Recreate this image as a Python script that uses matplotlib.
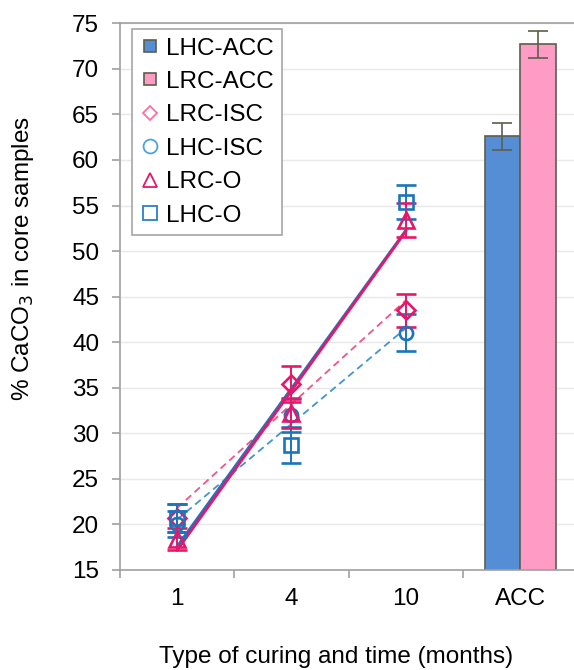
import numpy as np
import matplotlib
matplotlib.use("Agg")
import matplotlib.pyplot as plt
from matplotlib.lines import Line2D

plt.rcParams['font.family'] = ['Liberation Sans', 'DejaVu Sans']

categories = ['1', '4', '10', 'ACC']
time_idx = [0, 1, 2]

lrc_isc = [20.7, 35.4, 43.5]
lrc_isc_err = [1.5, 2.0, 1.8]
lhc_isc = [20.05, 32.0, 41.05]
lhc_isc_err = [1.4, 1.9, 2.0]
lrc_o = [18.4, 32.2, 53.4]
lrc_o_err = [1.2, 1.6, 1.85]
lhc_o = [20.7, 28.7, 55.4]
lhc_o_err = [1.5, 2.0, 1.9]

acc_labels = ['LHC-ACC', 'LRC-ACC']
acc_values = [62.6, 72.7]
acc_err = [1.5, 1.5]

PINK = '#E6176A'
BLUE = '#1B75BB'
PINK_D = '#F0558A'
BLUE_D = '#4393D3'
BAR_BLUE = '#558ED5'
BAR_PINK = '#FF9CC5'
EDGE = '#5E5E4C'
GRAY = '#A0A0A0'
FS = 17.5

fig = plt.figure(figsize=(5.74, 6.70), dpi=100)
ax = fig.add_axes([0.209, 0.1493, 0.7968, 0.8159])

ax.set_ylim(15, 75)
ax.set_xlim(-0.5, 3.5)
ax.set_yticks(np.arange(15, 76, 5))
ax.yaxis.grid(True, color='#E8E8E8', lw=1.0)
ax.set_axisbelow(True)

# ACC bars
w = 0.31
ax.bar([3 - w / 2, 3 + w / 2], acc_values, width=w, color=[BAR_BLUE, BAR_PINK],
       edgecolor=EDGE, linewidth=1.2, zorder=2)
ax.errorbar([3 - w / 2, 3 + w / 2], acc_values, yerr=acc_err, fmt='none',
            ecolor=EDGE, elinewidth=1.2, capsize=7, capthick=1.2, zorder=3)

# trendlines
def trend(y, color, ls, lw, z):
    p = np.polyfit(time_idx, y, 1)
    xx = np.array([time_idx[0], time_idx[-1]])
    ax.plot(xx, np.polyval(p, xx), color=color, ls=ls, lw=lw, zorder=z)

trend(lhc_isc, BLUE_D, (0, (4, 2.5)), 1.3, 3)
trend(lrc_isc, PINK_D, (0, (4, 2.5)), 1.3, 3)
trend(lhc_o, BLUE, '-', 2.0, 3)
trend(lrc_o, PINK, '-', 2.0, 3.1)

# markers with error bars
def series(y, e, marker, ms, color):
    ax.errorbar(time_idx, y, yerr=e, fmt=marker, ms=ms, mfc='none', mec=color,
                mew=1.9, ecolor=color, elinewidth=1.4, capsize=7, capthick=1.4,
                ls='none', zorder=4)

series(lhc_isc, lhc_isc_err, 'o', 9.5, BLUE)
series(lrc_isc, lrc_isc_err, 'D', 9.5, PINK)
series(lhc_o, lhc_o_err, 's', 9.5, BLUE)
series(lrc_o, lrc_o_err, '^', 11.5, PINK)

# axes styling
ax.spines['right'].set_visible(False)
for s in ['left', 'bottom', 'top']:
    ax.spines[s].set_color(GRAY)
    ax.spines[s].set_linewidth(1.2)

ax.set_xticks(range(len(categories)))
ax.set_xticklabels(categories)
ax.set_xticks([-0.5, 0.5, 1.5, 2.5], minor=True)
ax.tick_params(axis='x', which='major', length=0, pad=13, labelsize=FS)
ax.tick_params(axis='x', which='minor', length=6, width=1.2, color=GRAY, direction='out')
ax.tick_params(axis='y', length=6, width=1.2, color=GRAY, direction='out', pad=9,
               labelsize=FS)

fig.text(336 / 574, 1 - 657 / 670, 'Type of curing and time (months)', fontsize=FS,
         ha='center', va='center')
fig.text(23 / 574, 1 - 258 / 670, '% CaCO$_3$ in core samples', fontsize=FS,
         ha='center', va='center', rotation=90)

handles = [
    Line2D([], [], ls='none', marker='s', ms=9, mfc=BAR_BLUE, mec=EDGE, mew=1.2),
    Line2D([], [], ls='none', marker='s', ms=9, mfc=BAR_PINK, mec=EDGE, mew=1.2),
    Line2D([], [], ls='none', marker='D', ms=7, mfc='none', mec='#FF6F9F', mew=1.3),
    Line2D([], [], ls='none', marker='o', ms=10, mfc='none', mec='#4CA3DC', mew=1.3),
    Line2D([], [], ls='none', marker='^', ms=10, mfc='none', mec=PINK, mew=1.3),
    Line2D([], [], ls='none', marker='s', ms=10, mfc='none', mec='#2B7FCB', mew=1.3),
]
labels = ['LHC-ACC', 'LRC-ACC', 'LRC-ISC', 'LHC-ISC', 'LRC-O', 'LHC-O']
leg = ax.legend(handles, labels, loc='upper left', bbox_to_anchor=(0.0256, 0.9896),
                borderaxespad=0, fontsize=FS, frameon=True, fancybox=False,
                handlelength=0.8, handletextpad=0.25, labelspacing=0.47,
                borderpad=0.35, framealpha=1)
leg.get_frame().set_edgecolor('#A6A6A6')
leg.get_frame().set_linewidth(1.2)

fig.savefig('out.png', dpi=100)
